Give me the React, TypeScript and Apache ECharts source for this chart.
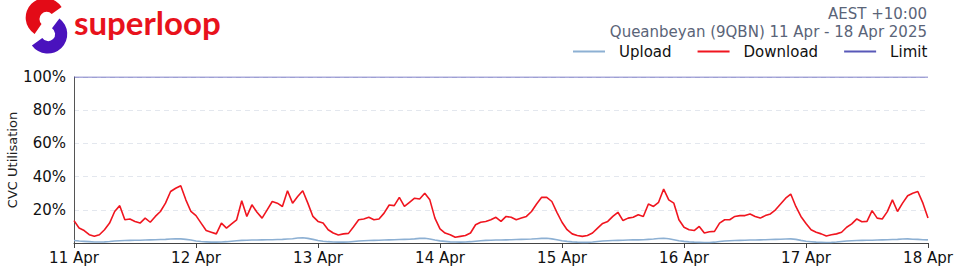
import React, { useEffect, useRef } from "react";
import * as echarts from "echarts";

const dayLabels = ["11 Apr", "12 Apr", "13 Apr", "14 Apr", "15 Apr", "16 Apr", "17 Apr", "18 Apr"];
const yTickLabels = ["", "20%", "40%", "60%", "80%", "100%"];

// hourly utilisation (%) from 11 Apr 00:00 to 18 Apr 00:00
const downloadValues = [
  13.5, 9, 7.5, 5, 4, 5, 8, 12, 19, 22.5, 14, 14.5, 13, 12, 15, 12.5, 16, 19, 24, 31, 33, 34.5, 26, 19,
  16.5, 12, 7.5, 6.5, 5.5, 12, 9, 11.5, 14, 25.5, 16, 23, 18.5, 15, 20, 25, 24, 22, 31.5, 24, 28, 31.5, 24, 16,
  13, 12, 8, 6, 4.8, 5.5, 5.8, 9.8, 14, 14.5, 15.5, 14, 14.5, 18, 22.9, 22.5, 27.5, 22, 24.5, 27, 26.5, 30, 26, 15,
  8.5, 6, 5, 3.5, 4, 4.5, 6, 11, 12.5, 13, 14, 15.5, 13, 16, 15.5, 14, 15, 16, 19, 23.5, 27.5, 27.5, 25, 18.5,
  12.5, 8, 5.5, 4.5, 4, 4.5, 6, 9, 11.8, 13, 16, 18.5, 13.5, 15, 15.5, 17, 16, 23.5, 22, 24.5, 32.5, 26, 24, 14,
  9.5, 8, 7.5, 10, 6, 6.8, 7, 12, 14, 14, 16, 16.5, 16.5, 17.5, 16, 15, 16.5, 17.5, 20, 23.5, 27, 29.5, 22, 16,
  11.8, 8, 6.5, 5.5, 4.2, 5, 5.5, 6.5, 9.5, 11.5, 14.5, 12.8, 13, 19.5, 15, 14.5, 18.9, 26, 19, 24, 28.5, 30, 31, 24,
  15,
];

const uploadValues = [
  1.5, 1.2, 1.0, 0.8, 0.6, 0.6, 0.7, 0.9, 1.2, 1.4, 1.5, 1.6, 1.7, 1.7, 1.8, 1.9, 2.0, 2.1, 2.2, 2.4, 2.6, 2.5, 2.2, 1.8,
  1.2, 0.9, 0.7, 0.5, 0.5, 0.6, 0.8, 1.1, 1.4, 1.6, 1.7, 1.8, 1.8, 1.9, 2.0, 2.0, 2.1, 2.2, 2.4, 2.6, 3.0, 3.2, 2.8, 2.2,
  1.5, 1.1, 0.8, 0.6, 0.5, 0.5, 0.6, 0.9, 1.2, 1.4, 1.5, 1.6, 1.7, 1.8, 1.9, 2.0, 2.1, 2.2, 2.3, 2.5, 2.8, 2.9, 2.4, 1.8,
  1.3, 1.0, 0.7, 0.6, 0.5, 0.6, 0.8, 1.1, 1.4, 1.6, 1.7, 1.8, 1.8, 1.9, 2.0, 2.1, 2.2, 2.3, 2.4, 2.6, 2.8, 2.9, 2.5, 2.0,
  1.4, 1.0, 0.7, 0.5, 0.4, 0.4, 0.6, 0.9, 1.2, 1.4, 1.5, 1.6, 1.7, 1.8, 1.9, 1.9, 2.0, 2.2, 2.4, 2.7, 2.9, 2.6, 2.0, 1.4,
  1.0, 0.7, 0.5, 0.4, 0.3, 0.3, 0.5, 0.9, 1.2, 1.4, 1.5, 1.6, 1.7, 1.8, 1.8, 1.9, 2.0, 2.1, 2.2, 2.3, 2.4, 2.5, 2.2, 1.6,
  1.1, 0.8, 0.5, 0.4, 0.3, 0.4, 0.6, 0.9, 1.2, 1.4, 1.5, 1.6, 1.7, 1.7, 1.8, 1.9, 2.0, 2.1, 2.2, 2.4, 2.5, 2.3, 2.2, 2.0,
  1.9,
];

const limitHours = [0, 168];
const limitValues = [100, 100];

const seriesNames = ["Upload", "Download", "Limit"];
const headerTimezone = "AEST +10:00";
const headerTitle = "Queanbeyan (9QBN) 11 Apr - 18 Apr 2025";
const brandName = "superloop";
const yAxisTitle = "CVC Utilisation";

echarts.graphic.registerShape(
  "logoRed",
  echarts.graphic.extendPath(
    "M 61.6 7.1 A 19.5 19.5 0 1 0 34.6 34.0 L 41.5 24.0 A 7 7 0 1 1 51.7 14.0 Z",
    {}
  )
);
echarts.graphic.registerShape(
  "logoPurple",
  echarts.graphic.extendPath(
    "M 31.9 45.4 A 19.5 19.5 0 1 0 59.4 18.4 L 52.0 28.3 A 7 7 0 1 1 42.3 38.0 Z",
    {}
  )
);

const FONT = "DejaVu Sans";

export default function App() {
  const ref = useRef<HTMLDivElement>(null);

  useEffect(() => {
    if (!ref.current) return;
    const chart = echarts.init(ref.current, null, { renderer: "svg" });
    const toPairs = (vals: number[]) => vals.map((v, i) => [i, v]);

    chart.setOption({
      animation: false,
      backgroundColor: "#ffffff",
      textStyle: { fontFamily: FONT },
      grid: {
        left: 74,
        right: 32,
        top: 77,
        bottom: 31,
        containLabel: false,
        outerBoundsMode: "none",
      },
      legend: {
        left: 568,
        top: 39,
        data: seriesNames,
        icon: "rect",
        itemWidth: 32,
        itemHeight: 2,
        itemGap: 26,
        textStyle: { fontFamily: FONT, fontSize: 15, color: "#111", padding: [0, 0, 0, 9] },
      },
      xAxis: {
        type: "value",
        min: 0,
        max: 168,
        interval: 24,
        axisLine: { show: true, lineStyle: { color: "#444", width: 1 } },
        axisTick: { show: true, length: 5, lineStyle: { color: "#444" } },
        splitLine: { show: false },
        axisLabel: {
          fontFamily: FONT,
          fontSize: 15,
          color: "#111",
          margin: 7,
          formatter: (v: number) => dayLabels[Math.round(v / 24)] ?? "",
        },
      },
      yAxis: {
        type: "value",
        min: 0,
        max: 100,
        interval: 20,
        name: yAxisTitle,
        nameLocation: "middle",
        nameGap: 55,
        nameMoveOverlap: false,
        nameTextStyle: { fontFamily: FONT, fontSize: 13, color: "#222" },
        axisLine: { show: true, lineStyle: { color: "#555", width: 1 } },
        axisTick: { show: false },
        splitLine: { show: true, lineStyle: { color: "#e3e7ee", type: [5, 4], width: 1 } },
        axisLabel: {
          fontFamily: FONT,
          fontSize: 15,
          color: "#111",
          margin: 8,
          formatter: (v: number) => yTickLabels[Math.round(v / 20)] ?? "",
        },
      },
      series: [
        {
          name: "Upload",
          type: "line",
          data: toPairs(uploadValues),
          showSymbol: false,
          lineStyle: { color: "#8db0d3", width: 1.6 },
          itemStyle: { color: "#8db0d3" },
          z: 3,
        },
        {
          name: "Download",
          type: "line",
          data: toPairs(downloadValues),
          showSymbol: false,
          lineStyle: { color: "#f0151f", width: 1.6 },
          itemStyle: { color: "#f0151f" },
          z: 4,
        },
        {
          name: "Limit",
          type: "line",
          data: limitHours.map((h, i) => [h, limitValues[i]]),
          showSymbol: false,
          lineStyle: { color: "#5858b8", width: 1.2 },
          itemStyle: { color: "#5858b8" },
          z: 2,
        },
      ],
      graphic: [
        { type: "logoRed", x: 0, y: 0, style: { fill: "#e30b17" } },
        { type: "logoPurple", x: 0, y: 0, style: { fill: "#4a12bd" } },
        {
          type: "text",
          x: 74,
          y: 22,
          style: {
            text: brandName,
            fontFamily: "Lato",
            fontWeight: "bold",
            fontSize: 33,
            fill: "#e8121c",
            verticalAlign: "middle",
            align: "left",
          },
        },
        {
          type: "text",
          x: 927,
          y: 14,
          style: {
            text: headerTimezone,
            fontFamily: FONT,
            fontSize: 15,
            fill: "#5a6478",
            align: "right",
            verticalAlign: "middle",
          },
        },
        {
          type: "text",
          x: 927,
          y: 32,
          style: {
            text: headerTitle,
            fontFamily: FONT,
            fontSize: 15,
            fill: "#5a6478",
            align: "right",
            verticalAlign: "middle",
          },
        },
      ],
    });

    return () => chart.dispose();
  }, []);

  return (
    <div
      ref={ref}
      style={{ position: "fixed", left: 0, top: 0, width: 960, height: 274 }}
    />
  );
}
